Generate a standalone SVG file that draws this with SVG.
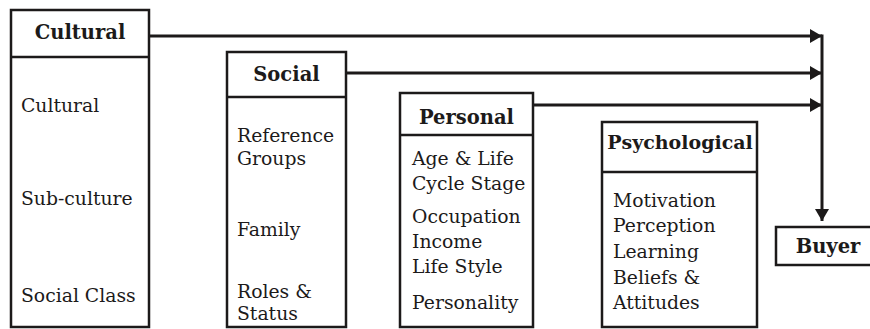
<svg xmlns="http://www.w3.org/2000/svg" width="870" height="329" viewBox="0 0 870 329">
  <style>
    .box { fill: #ffffff; stroke: #1c1a1a; stroke-width: 2.5; }
    .div { stroke: #1c1a1a; stroke-width: 2.5; }
    .head { font-family: "DejaVu Serif", "Liberation Serif", serif; font-weight: bold; font-size: 19.5px; fill: #1c1a1a; text-anchor: middle; }
    .item { font-family: "DejaVu Serif", "Liberation Serif", serif; font-size: 18.8px; fill: #1c1a1a; }
    .link { stroke: #1c1a1a; stroke-width: 3; fill: none; }
  </style>
  <defs>
    <marker id="arrow" viewBox="0 0 12 14" refX="12" refY="7" markerWidth="12" markerHeight="14" markerUnits="userSpaceOnUse" orient="auto">
      <path d="M0,0 L12,7 L0,14 Z" fill="#1c1a1a"/>
    </marker>
  </defs>

  <rect width="870" height="329" fill="#ffffff"/>

  <!-- Cultural factors -->
  <g id="cultural">
    <rect class="box" x="11" y="10" width="138" height="317"/>
    <line class="div" x1="11" y1="57" x2="149" y2="57"/>
    <text class="head" x="80" y="39">Cultural</text>
    <text class="item" x="21" y="112">Cultural</text>
    <text class="item" x="21" y="205">Sub-culture</text>
    <text class="item" x="21" y="302">Social Class</text>
  </g>

  <!-- Social factors -->
  <g id="social">
    <rect class="box" x="227" y="52" width="119" height="275"/>
    <line class="div" x1="227" y1="97" x2="346" y2="97"/>
    <text class="head" x="286.5" y="81">Social</text>
    <text class="item" x="237" y="142">Reference</text>
    <text class="item" x="237" y="165">Groups</text>
    <text class="item" x="237" y="236">Family</text>
    <text class="item" x="237" y="298">Roles &amp;</text>
    <text class="item" x="237" y="320">Status</text>
  </g>

  <!-- Personal factors -->
  <g id="personal">
    <rect class="box" x="400" y="93" width="133" height="234"/>
    <line class="div" x1="400" y1="135" x2="533" y2="135"/>
    <text class="head" x="466.5" y="124">Personal</text>
    <text class="item" x="412" y="165">Age &amp; Life</text>
    <text class="item" x="412" y="190">Cycle Stage</text>
    <text class="item" x="412" y="223">Occupation</text>
    <text class="item" x="412" y="248">Income</text>
    <text class="item" x="412" y="273">Life Style</text>
    <text class="item" x="412" y="309">Personality</text>
  </g>

  <!-- Psychological factors -->
  <g id="psychological">
    <rect class="box" x="602" y="122" width="155" height="205"/>
    <line class="div" x1="602" y1="172" x2="757" y2="172"/>
    <text class="head" x="680" y="149" style="font-size:19px">Psychological</text>
    <text class="item" x="613" y="207">Motivation</text>
    <text class="item" x="613" y="232">Perception</text>
    <text class="item" x="613" y="258">Learning</text>
    <text class="item" x="613" y="284">Beliefs &amp;</text>
    <text class="item" x="613" y="309">Attitudes</text>
  </g>

  <!-- Buyer -->
  <g id="buyer">
    <rect class="box" x="776" y="227" width="98" height="38"/>
    <text class="head" x="828" y="253">Buyer</text>
  </g>

  <!-- Connectors -->
  <g id="connectors">
    <line class="link" x1="149" y1="36" x2="822" y2="36" marker-end="url(#arrow)"/>
    <line class="link" x1="346" y1="73" x2="822" y2="73" marker-end="url(#arrow)"/>
    <line class="link" x1="533" y1="105" x2="822" y2="105" marker-end="url(#arrow)"/>
    <line class="link" x1="822" y1="34.5" x2="822" y2="221" marker-end="url(#arrow)"/>
  </g>
</svg>
